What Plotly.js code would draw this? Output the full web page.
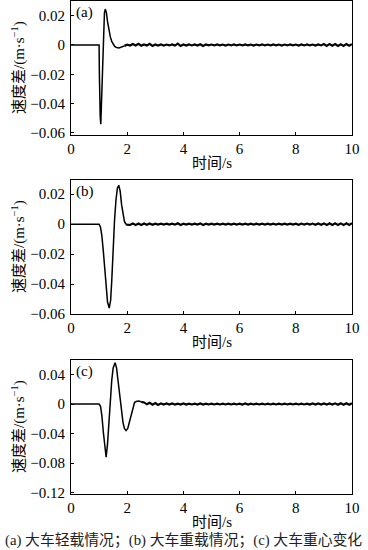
<!DOCTYPE html>
<html>
<head>
<meta charset="utf-8">
<script src="https://cdn.plot.ly/plotly-3.0.1.min.js"></script>
<style>html,body{margin:0;padding:0;background:#fff;}#chart{width:368px;height:550px;}</style>
</head>
<body>
<div id="chart"></div>
<script>
// ---- data ----
var tA = [0, 1.0, 1.01, 1.02, 1.04, 1.06, 1.08, 1.11, 1.15, 1.19, 1.22, 1.26, 1.3, 1.35, 1.4, 1.45, 1.5, 1.55, 1.6, 1.7, 1.8, 1.9];
var vA = [0, 0, -0.02, -0.035, -0.049, -0.054, -0.042, -0.012, 0.011, 0.022, 0.0245, 0.022, 0.016, 0.0095, 0.0055, 0.0025, 0.0005, -0.0008, -0.0016, -0.002, -0.0014, -0.0006];

var tB = [0, 1.0, 1.05, 1.1, 1.15, 1.2, 1.25, 1.3, 1.36, 1.41, 1.45, 1.5, 1.55, 1.6, 1.65, 1.7, 1.75, 1.8, 1.85, 1.9, 1.95];
var vB = [0, 0, -0.002, -0.008, -0.018, -0.03, -0.042, -0.052, -0.056, -0.051, -0.038, -0.016, 0.003, 0.016, 0.024, 0.026, 0.022, 0.013, 0.006, 0.002, 0.0];

var tC = [0, 1.0, 1.05, 1.1, 1.15, 1.2, 1.25, 1.3, 1.35, 1.39, 1.45, 1.5, 1.57, 1.62, 1.67, 1.71, 1.75, 1.8, 1.85, 1.9, 1.96, 2.02, 2.08, 2.14, 2.2, 2.26, 2.32, 2.4, 2.5];
var vC = [0, 0, -0.003, -0.016, -0.038, -0.061, -0.072, -0.054, -0.024, 0.0, 0.032, 0.049, 0.056, 0.049, 0.032, 0.016, 0.002, -0.013, -0.025, -0.033, -0.036, -0.033, -0.024, -0.012, -0.003, 0.002, 0.0035, 0.004, 0.003];

var tSteady = [2.0, 2.1, 2.2, 2.3, 2.4, 2.5, 2.6, 2.7, 2.8, 2.9,
  3.0, 3.1, 3.2, 3.3, 3.4, 3.5, 3.6, 3.7, 3.8, 3.9,
  4.0, 4.1, 4.2, 4.3, 4.4, 4.5, 4.6, 4.7, 4.8, 4.9,
  5.0, 5.1, 5.2, 5.3, 5.4, 5.5, 5.6, 5.7, 5.8, 5.9,
  6.0, 6.1, 6.2, 6.3, 6.4, 6.5, 6.6, 6.7, 6.8, 6.9,
  7.0, 7.1, 7.2, 7.3, 7.4, 7.5, 7.6, 7.7, 7.8, 7.9,
  8.0, 8.1, 8.2, 8.3, 8.4, 8.5, 8.6, 8.7, 8.8, 8.9,
  9.0, 9.1, 9.2, 9.3, 9.4, 9.5, 9.6, 9.7, 9.8, 9.9, 10.0];

var nA = [0.0002, -0.0004, 0.0007, -0.0003, 0.0008, -0.0005, 0.0004, -0.0003, 0.0008, -0.0006,
  0.0004, -0.0004, 0.0003, -0.0004, 0.0003, -0.0003, 0.0004, -0.0004, 0.0009, -0.0007,
  0.0003, -0.0004, 0.0004, -0.0003, 0.0004, -0.0004, 0.0005, -0.0007, 0.0003, -0.0003,
  0.0003, -0.0003, 0.0004, -0.0003, 0.0003, -0.0004, 0.0003, -0.0003, 0.0004, -0.0003,
  0.0003, -0.0003, 0.0004, -0.0003, 0.0003, -0.0004, 0.0003, -0.0003, 0.0004, -0.0003,
  0.0003, -0.0003, 0.0004, -0.0003, 0.0003, -0.0004, 0.0003, -0.0003, 0.0004, -0.0003,
  0.0003, -0.0004, 0.0004, -0.0003, 0.0004, -0.0003, 0.0003, -0.0004, 0.0004, -0.0003,
  0.0006, -0.0006, 0.0007, -0.0005, 0.0006, -0.0007, 0.0005, -0.0006, 0.0007, -0.0005, 0.0006];

var nB = [-0.0004, -0.0005, 0.0004, -0.0005, 0.0004, -0.0005, 0.0004, -0.0004, 0.0005, -0.0004,
  0.0003, -0.0003, 0.0003, -0.0003, 0.0003, -0.0003, 0.0003, -0.0003, 0.0006, -0.0005,
  0.0003, -0.0003, 0.0003, -0.0003, 0.0003, -0.0003, 0.0005, -0.0006, 0.0003, -0.0003,
  0.0003, -0.0003, 0.0003, -0.0003, 0.0003, -0.0003, 0.0003, -0.0003, 0.0003, -0.0003,
  0.0003, -0.0003, 0.0003, -0.0003, 0.0003, -0.0003, 0.0003, -0.0003, 0.0003, -0.0003,
  0.0003, -0.0003, 0.0003, -0.0003, 0.0003, -0.0003, 0.0003, -0.0003, 0.0003, -0.0003,
  0.0003, -0.0004, 0.0004, -0.0003, 0.0004, -0.0003, 0.0004, -0.0004, 0.0004, -0.0004,
  0.0005, -0.0006, 0.0006, -0.0005, 0.0006, -0.0006, 0.0005, -0.0006, 0.0006, -0.0005, 0.0006];

var tSteadyC = [2.6, 2.7, 2.8, 2.9,
  3.0, 3.1, 3.2, 3.3, 3.4, 3.5, 3.6, 3.7, 3.8, 3.9,
  4.0, 4.1, 4.2, 4.3, 4.4, 4.5, 4.6, 4.7, 4.8, 4.9,
  5.0, 5.1, 5.2, 5.3, 5.4, 5.5, 5.6, 5.7, 5.8, 5.9,
  6.0, 6.1, 6.2, 6.3, 6.4, 6.5, 6.6, 6.7, 6.8, 6.9,
  7.0, 7.1, 7.2, 7.3, 7.4, 7.5, 7.6, 7.7, 7.8, 7.9,
  8.0, 8.1, 8.2, 8.3, 8.4, 8.5, 8.6, 8.7, 8.8, 8.9,
  9.0, 9.1, 9.2, 9.3, 9.4, 9.5, 9.6, 9.7, 9.8, 9.9, 10.0];
var nC = [0.0022, -0.0004, 0.0018, -0.0008, 0.0014, -0.0012, 0.0009, -0.0008,
  0.0007, -0.0007, 0.0007, -0.0006, 0.0006, -0.0007, 0.0007, -0.0006, 0.0006, -0.0006,
  0.0006, -0.0006, 0.0007, -0.0006, 0.0006, -0.0006, 0.0006, -0.0006, 0.0006, -0.0006,
  0.0006, -0.0006, 0.0006, -0.0006, 0.0006, -0.0006, 0.0006, -0.0006, 0.0007, -0.0006,
  0.0006, -0.0006, 0.0006, -0.0006, 0.0006, -0.0006, 0.0006, -0.0006, 0.0006, -0.0006,
  0.0006, -0.0006, 0.0006, -0.0006, 0.0006, -0.0006, 0.0006, -0.0006, 0.0006, -0.0006,
  0.0006, -0.0007, 0.0007, -0.0006, 0.0007, -0.0006, 0.0007, -0.0007, 0.0007, -0.0007,
  0.0009, -0.0010, 0.0010, -0.0009, 0.0011, -0.0010, 0.0010];

var xTicks = [0, 2, 4, 6, 8, 10];
var xTickText = ['0', '2', '4', '6', '8', '10'];
var yTicksAB = [0.02, 0, -0.02, -0.04, -0.06];
var yTickTextAB = ['0.02', '0', '\u22120.02', '\u22120.04', '\u22120.06'];
var yTicksC = [0.04, 0, -0.04, -0.08, -0.12];
var yTickTextC = ['0.04', '0', '\u22120.04', '\u22120.08', '\u22120.12'];
var panelLabels = ['(a)', '(b)', '(c)'];
var yTitle = '速度差/(m·s<sup>\u22121</sup>)';
var xTitle = '时间/s';
var caption = '(a) 大车轻载情况；(b) 大车重载情况；(c) 大车重心变化';

// ---- figure ----
var W = 368, H = 550;
var serif = '"Liberation Serif", "Times New Roman", "Noto Sans CJK SC", serif';
var line = {color: '#000', width: 1.5};
var bandLine = {color: '#000', width: 2.2};

var traces = [
  {x: tA, y: vA, xaxis: 'x', yaxis: 'y', mode: 'lines', line: line, hoverinfo: 'none'},
  {x: [tA[tA.length - 1]].concat(tSteady), y: [vA[vA.length - 1]].concat(nA), xaxis: 'x', yaxis: 'y', mode: 'lines', line: bandLine, hoverinfo: 'none'},
  {x: tB, y: vB, xaxis: 'x2', yaxis: 'y2', mode: 'lines', line: line, hoverinfo: 'none'},
  {x: [tB[tB.length - 1]].concat(tSteady), y: [vB[vB.length - 1]].concat(nB), xaxis: 'x2', yaxis: 'y2', mode: 'lines', line: bandLine, hoverinfo: 'none'},
  {x: tC, y: vC, xaxis: 'x3', yaxis: 'y3', mode: 'lines', line: line, hoverinfo: 'none'},
  {x: [tC[tC.length - 1]].concat(tSteadyC), y: [vC[vC.length - 1]].concat(nC), xaxis: 'x3', yaxis: 'y3', mode: 'lines', line: bandLine, hoverinfo: 'none'}
];

var px = function (p) { return p / W; };
var py = function (p) { return 1 - p / H; };

var panels = [
  {top: 1, bottom: 135, yr: [-0.0614, 0.030], tv: yTicksAB, tt: yTickTextAB},
  {top: 180, bottom: 314, yr: [-0.0600, 0.0295], tv: yTicksAB, tt: yTickTextAB},
  {top: 360, bottom: 494, yr: [-0.122, 0.0597], tv: yTicksC, tt: yTickTextC}
];
var left = 71, right = 352;

var layout = {
  width: W, height: H,
  margin: {l: 0, r: 0, t: 0, b: 0},
  paper_bgcolor: '#fff', plot_bgcolor: '#fff',
  showlegend: false,
  font: {family: serif, size: 14, color: '#000'},
  annotations: []
};

panels.forEach(function (p, i) {
  var sfx = i === 0 ? '' : String(i + 1);
  layout['xaxis' + sfx] = {
    domain: [px(left), px(right)], range: [0, 10], anchor: 'y' + sfx,
    tickvals: xTicks, ticktext: xTickText, ticks: 'inside', ticklen: 3, tickwidth: 1, tickcolor: '#000',
    showline: true, linecolor: '#000', linewidth: 1, mirror: true,
    showgrid: false, zeroline: false, fixedrange: true,
    tickfont: {family: serif, size: 15, color: '#000'}, ticklabelstandoff: 0
  };
  layout['yaxis' + sfx] = {
    domain: [py(p.bottom), py(p.top)], range: p.yr, anchor: 'x' + sfx,
    tickvals: p.tv, ticktext: p.tt, ticks: 'inside', ticklen: 3, tickwidth: 1, tickcolor: '#000',
    showline: true, linecolor: '#000', linewidth: 1, mirror: true,
    showgrid: false, zeroline: false, fixedrange: true,
    tickfont: {family: serif, size: 15, color: '#000'}, ticklabelstandoff: 2
  };
  layout.annotations.push({
    xref: 'paper', yref: 'paper', x: px(74), y: py(p.top + 11), xanchor: 'left', yanchor: 'middle',
    text: panelLabels[i], showarrow: false, font: {family: serif, size: 15, color: '#000'}
  });
  layout.annotations.push({
    xref: 'paper', yref: 'paper', x: px(18), y: py((p.top + p.bottom) / 2), xanchor: 'center', yanchor: 'middle',
    textangle: -90, text: yTitle, showarrow: false, font: {family: serif, size: 15, color: '#000'}
  });
  layout.annotations.push({
    xref: 'paper', yref: 'paper', x: px((left + right) / 2), y: py(p.bottom + 28), xanchor: 'center', yanchor: 'middle',
    text: xTitle, showarrow: false, font: {family: serif, size: 15, color: '#000'}
  });
});

layout.annotations.push({
  xref: 'paper', yref: 'paper', x: px(3), y: py(540), xanchor: 'left', yanchor: 'middle',
  text: caption, showarrow: false, font: {family: serif, size: 14.8, color: '#222'}
});

Plotly.newPlot('chart', traces, layout, {staticPlot: true, displayModeBar: false});
</script>
</body>
</html>
